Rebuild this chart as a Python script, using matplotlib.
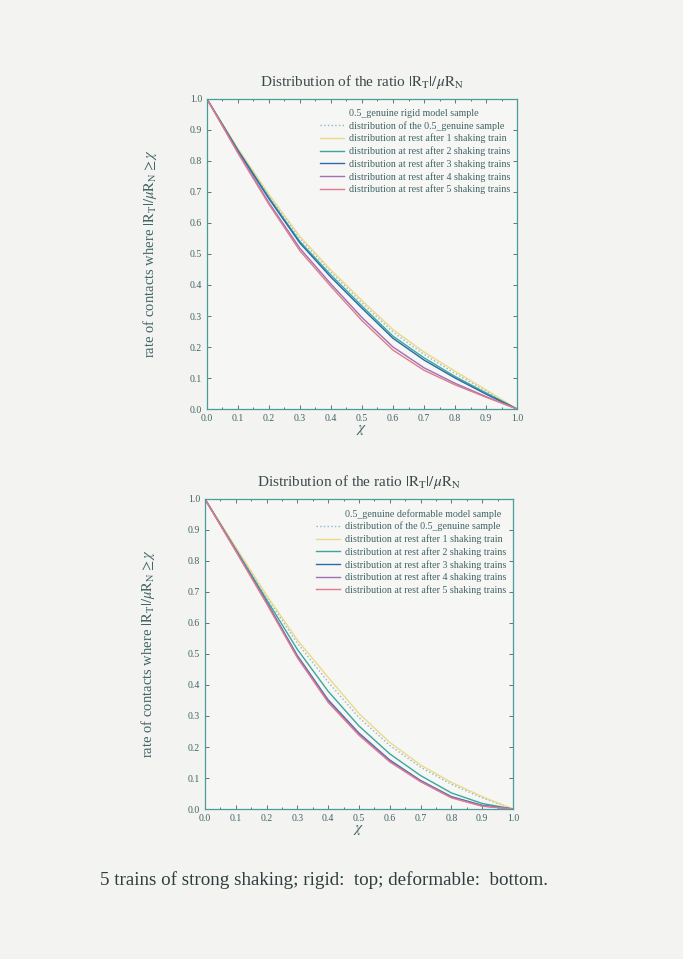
import numpy as np
import matplotlib
matplotlib.use("Agg")
import matplotlib.pyplot as plt
from matplotlib.ticker import MultipleLocator

chi = [0.0, 0.1, 0.2, 0.3, 0.4, 0.5, 0.6, 0.7, 0.8, 0.9, 1.0]

# rigid model (top)
rigid_genuine = [1.0, 0.838, 0.688, 0.55, 0.442, 0.342, 0.248, 0.176, 0.115, 0.058, 0.0]
rigid_train1 = [1.0, 0.84, 0.692, 0.556, 0.448, 0.35, 0.256, 0.184, 0.122, 0.062, 0.0]
rigid_train2 = [1.0, 0.835, 0.682, 0.54, 0.432, 0.332, 0.235, 0.165, 0.105, 0.052, 0.0]
rigid_train3 = [1.0, 0.833, 0.678, 0.535, 0.425, 0.325, 0.228, 0.158, 0.1, 0.048, 0.0]
rigid_train4 = [1.0, 0.828, 0.665, 0.518, 0.403, 0.295, 0.2, 0.133, 0.083, 0.04, 0.0]
rigid_train5 = [1.0, 0.825, 0.66, 0.51, 0.395, 0.285, 0.19, 0.125, 0.078, 0.038, 0.0]

# deformable model (bottom)
deform_genuine = [1.0, 0.842, 0.684, 0.535, 0.41, 0.295, 0.205, 0.135, 0.08, 0.036, 0.0]
deform_train1 = [1.0, 0.845, 0.69, 0.545, 0.425, 0.308, 0.215, 0.142, 0.086, 0.04, 0.0]
deform_train2 = [1.0, 0.838, 0.676, 0.515, 0.38, 0.268, 0.178, 0.108, 0.052, 0.018, 0.0]
deform_train3 = [1.0, 0.835, 0.668, 0.495, 0.352, 0.245, 0.158, 0.092, 0.04, 0.012, 0.0]
deform_train4 = [1.0, 0.834, 0.666, 0.492, 0.348, 0.242, 0.155, 0.09, 0.038, 0.01, 0.0]
deform_train5 = [1.0, 0.832, 0.663, 0.488, 0.344, 0.238, 0.152, 0.088, 0.036, 0.009, 0.0]

labels = ["distribution of the 0.5_genuine sample",
          "distribution at rest after 1 shaking train",
          "distribution at rest after 2 shaking trains",
          "distribution at rest after 3 shaking trains",
          "distribution at rest after 4 shaking trains",
          "distribution at rest after 5 shaking trains"]
colors = ["#8fb8c8", "#ecd98a", "#3aa898", "#2a6aa8", "#a070b0", "#e07a90"]
styles = [":", "-", "-", "-", "-", "-"]

plt.rcParams["font.family"] = ["Liberation Serif", "DejaVu Serif"]
plt.rcParams["mathtext.fontset"] = "stix"
ink = "#3f6464"
frame = "#4a9c9a"

fig = plt.figure(figsize=(6.83, 9.59), dpi=100)
fig.patch.set_facecolor("#f3f3f1")


def panel(rect, title, head, series):
    ax = fig.add_axes(rect)
    ax.set_facecolor("#f6f6f4")
    ax.plot([], [], " ", label=head)
    for ys, lab, c, ls in zip(series, labels, colors, styles):
        ax.plot(chi, ys, color=c, ls=ls, lw=1.0, label=lab)
    ax.set_xlim(0, 1)
    ax.set_ylim(0, 1)
    ax.xaxis.set_major_locator(MultipleLocator(0.1))
    ax.xaxis.set_minor_locator(MultipleLocator(0.05))
    ax.yaxis.set_major_locator(MultipleLocator(0.1))
    ax.tick_params(which="both", direction="in", top=True, right=True,
                   labelsize=7, colors=ink, length=3, width=0.6)
    ax.tick_params(which="minor", length=1.5)
    for s in ax.spines.values():
        s.set_color(frame)
        s.set_linewidth(0.9)
    ax.set_title(title, fontsize=11, color="#3a4a4a", pad=9)
    ax.set_xlabel(r"$\chi$", fontsize=11, color=ink, labelpad=0)
    ax.set_ylabel(r"rate of contacts where $|\mathrm{R_T}|/\mu\mathrm{R_N} \geq \chi$",
                  fontsize=10.5, color=ink, labelpad=22)
    leg = ax.legend(loc="upper right", fontsize=7.2, frameon=False,
                    handlelength=2.4, handletextpad=0.5, labelspacing=0.3,
                    borderaxespad=0.3, bbox_to_anchor=(1.0, 0.99))
    for t in leg.get_texts():
        t.set_color(ink)
    return ax


title = r"Distribution of the ratio $|\mathrm{R_T}|/\mu\mathrm{R_N}$"
panel([0.303, 0.5735, 0.454, 0.3233], title, "0.5_genuine rigid model sample",
      [rigid_genuine, rigid_train1, rigid_train2, rigid_train3, rigid_train4, rigid_train5])
panel([0.300, 0.1564, 0.451, 0.3233], title, "0.5_genuine deformable model sample",
      [deform_genuine, deform_train1, deform_train2, deform_train3, deform_train4, deform_train5])

fig.text(0.146, 0.082, "5 trains of strong shaking; rigid:  top; deformable:  bottom.",
         fontsize=13.7, color="#2e3e3e", va="center")

fig.savefig("out.png", dpi=100, facecolor=fig.get_facecolor())
